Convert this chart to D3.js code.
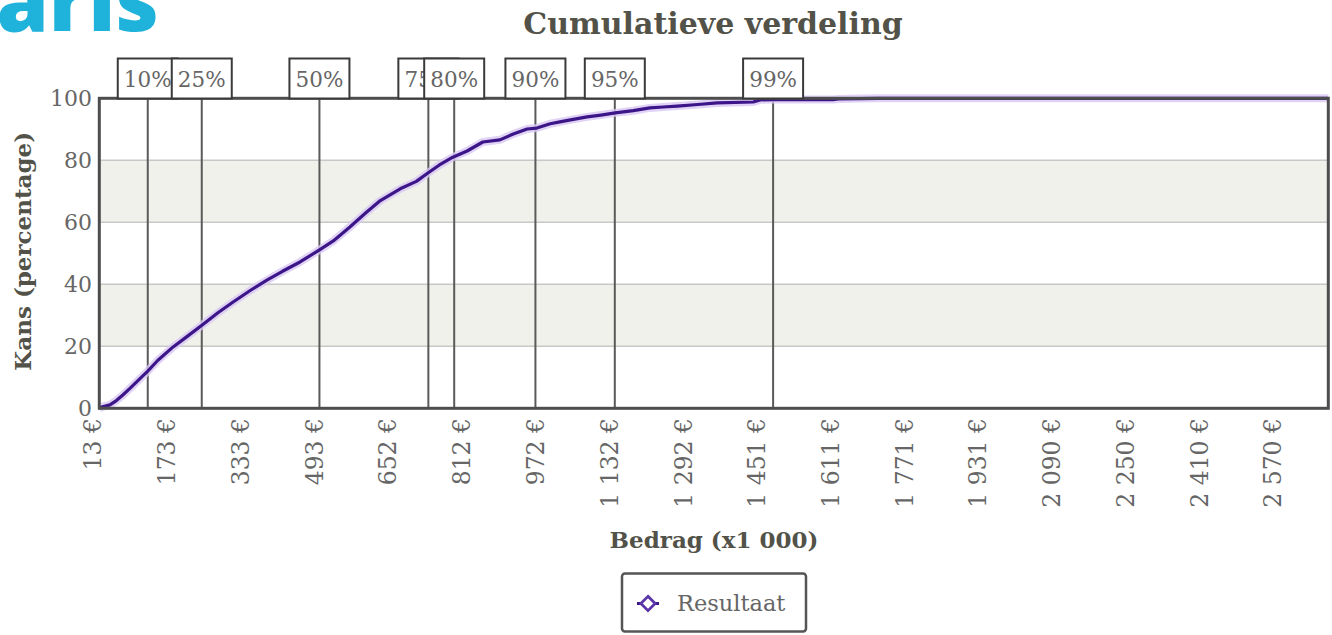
<!DOCTYPE html>
<html><head><meta charset="utf-8">
<script src="https://cdn.jsdelivr.net/npm/d3@7"></script>
<style>
html,body{margin:0;padding:0;background:#fff;}
svg{display:block;}
</style></head>
<body>
<svg id="chart" width="1332" height="635"></svg>
<script>
// ---- data ----
const amounts = [13,20,36,50,64,80,95,118,140,173,200,236,270,303,340,377,410,448,491,520,556,590,622,665,700,725,750,779,810,844,881,910,940,961,990,1011,1040,1070,1100,1131,1170,1206,1235,1265,1310,1352,1430,1445,1473,1603,1615,1662,1700,2676];
const probabilities = [0,0.5,1.1,2.5,4.3,6.5,8.7,12.0,15.5,19.8,22.8,26.9,30.8,34.3,38.0,41.4,44.2,47.2,51.2,54.0,58.5,63.0,67.0,70.8,73.2,75.9,78.5,81.0,83.0,85.9,86.6,88.5,90.1,90.4,91.8,92.4,93.2,94.0,94.6,95.3,96.0,96.9,97.2,97.5,98.0,98.5,98.8,99.5,99.6,99.6,99.8,99.9,100,100];
const percentileLabels = ["10%","25%","50%","75%","80%","90%","95%","99%"];
const percentileValues = [118,235,490,726,782,958,1130,1473];
const xTickValues = [13,173,333,493,652,812,972,1132,1292,1451,1611,1771,1931,2090,2250,2410,2570];
const xTickLabels = ["13 €","173 €","333 €","493 €","652 €","812 €","972 €","1 132 €","1 292 €","1 451 €","1 611 €","1 771 €","1 931 €","2 090 €","2 250 €","2 410 €","2 570 €"];
const yTickValues = [0,20,40,60,80,100];
const bandRanges = [[20,40],[60,80]];
const seriesName = "Resultaat";
const titleText = "Cumulatieve verdeling";
const yTitle = "Kans (percentage)";
const xTitle = "Bedrag (x1 000)";

// ---- layout ----
const L = 99.3, R = 1328.3, T = 98.3, B = 408.3;
const FONT = "'DejaVu Serif', serif";
const svg = d3.select("#chart");
const x = d3.scaleLinear().domain([13, 2676]).range([L, R]);
const y = d3.scaleLinear().domain([0, 100]).range([B, T]);

// logo fragment
svg.append("text").attr("x", 159).attr("y", 31).attr("text-anchor", "end")
  .attr("font-family", "'Open Sans', sans-serif").attr("font-weight", 800)
  .attr("font-size", 84).attr("fill", "#1fb3dc").text("Polaris");

// title
svg.append("text").attr("x", 713).attr("y", 34).attr("text-anchor", "middle")
  .attr("font-family", FONT).attr("font-weight", "bold").attr("font-size", 30)
  .attr("fill", "#525249").text(titleText);

// bands
svg.append("g").selectAll("rect").data(bandRanges).join("rect")
  .attr("x", L).attr("width", R - L)
  .attr("y", d => y(d[1])).attr("height", d => y(d[0]) - y(d[1]))
  .attr("fill", "#f1f1eb");

// gridlines
svg.append("g").selectAll("line").data(yTickValues.filter(v => v > 0 && v < 100)).join("line")
  .attr("x1", L).attr("x2", R).attr("y1", d => y(d)).attr("y2", d => y(d))
  .attr("stroke", "#c8c8c8").attr("stroke-width", 1.5);

// percentile lines
svg.append("g").selectAll("line").data(percentileValues).join("line")
  .attr("x1", d => x(d)).attr("x2", d => x(d)).attr("y1", T).attr("y2", B)
  .attr("stroke", "#5a5a5a").attr("stroke-width", 2);

// curve
const line = d3.line().x((d, i) => x(amounts[i])).y((d, i) => y(probabilities[i]));
svg.append("path").datum(amounts).attr("d", line).attr("fill", "none")
  .attr("stroke", "#d8c8f4").attr("stroke-width", 8).attr("stroke-linejoin", "round").attr("opacity", 0.8);
svg.append("path").datum(amounts).attr("d", line).attr("fill", "none")
  .attr("stroke", "#3c1689").attr("stroke-width", 3.2).attr("stroke-linejoin", "round");

// plot border
svg.append("rect").attr("x", L).attr("y", T).attr("width", R - L).attr("height", B - T)
  .attr("fill", "none").attr("stroke", "#4d4d4d").attr("stroke-width", 3);

// y axis labels
svg.append("g").selectAll("text").data(yTickValues).join("text")
  .attr("x", 92).attr("y", d => y(d) + 8).attr("text-anchor", "end")
  .attr("font-family", FONT).attr("font-size", 22).attr("fill", "#666")
  .text(d => d);

// x axis labels
svg.append("g").selectAll("text").data(xTickValues).join("text")
  .attr("transform", d => `translate(${x(d) + 2},418) rotate(-90)`)
  .attr("text-anchor", "end")
  .attr("font-family", FONT).attr("font-size", 23.5).attr("fill", "#666")
  .text((d, i) => xTickLabels[i]);

// axis titles
svg.append("text").attr("transform", `translate(31,${(T + B) / 2 - 2}) rotate(-90)`)
  .attr("text-anchor", "middle").attr("font-family", FONT).attr("font-weight", "bold")
  .attr("font-size", 23).attr("fill", "#525249").text(yTitle);
svg.append("text").attr("x", 714).attr("y", 548).attr("text-anchor", "middle")
  .attr("font-family", FONT).attr("font-weight", "bold")
  .attr("font-size", 23).attr("fill", "#525249").text(xTitle);

// percentile boxes
const boxes = svg.append("g").selectAll("g").data(percentileValues).join("g")
  .attr("transform", d => `translate(${x(d)},0)`);
boxes.append("rect").attr("x", -30).attr("y", 58.5).attr("width", 60).attr("height", 40)
  .attr("fill", "#fff").attr("stroke", "#3a3a3a").attr("stroke-width", 2);
boxes.append("text").attr("x", 0).attr("y", 87).attr("text-anchor", "middle")
  .attr("font-family", FONT).attr("font-size", 21.5).attr("fill", "#666")
  .text((d, i) => percentileLabels[i]);

// legend
const lg = svg.append("g");
lg.append("rect").attr("x", 622).attr("y", 573.5).attr("width", 184).attr("height", 58)
  .attr("rx", 3).attr("fill", "#fff").attr("stroke", "#555").attr("stroke-width", 2.5);
lg.append("line").attr("x1", 637).attr("x2", 659).attr("y1", 603.5).attr("y2", 603.5)
  .attr("stroke", "#3c1689").attr("stroke-width", 3);
lg.append("path").attr("d", d3.symbol(d3.symbolDiamond2, 130)()).attr("transform", "translate(648,603.5)")
  .attr("fill", "#fff").attr("stroke", "#5b35a8").attr("stroke-width", 2.8);
lg.append("text").attr("x", 677).attr("y", 611).attr("font-family", FONT).attr("font-size", 22.5)
  .attr("fill", "#666").text(seriesName);
</script>
</body></html>
